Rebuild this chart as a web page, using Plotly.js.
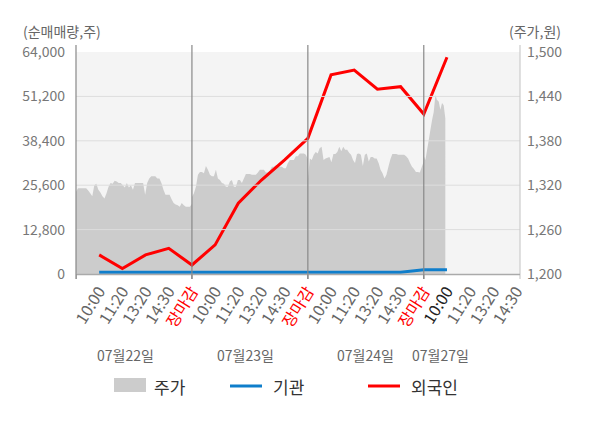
<!DOCTYPE html>
<html>
<head>
<meta charset="utf-8">
<script src="https://cdn.plot.ly/plotly-3.0.1.min.js"></script>
<style>
html,body{margin:0;padding:0;background:#fff;}
#chart{width:600px;height:428px;}
</style>
</head>
<body>
<div id="chart"></div>
<script>
// ---------- DATA ----------
const sessionTimes = ['10:00', '11:20', '13:20', '14:30', '장마감'];
const dates = ['07월22일', '07월23일', '07월24일', '07월27일'];
const volTicks = [0, 12800, 25600, 38400, 51200, 64000];
const priceTicks = [1200, 1260, 1320, 1380, 1440, 1500];

// 주가 (intraday price samples per day, 원)
const priceDay1 = [1311,1316,1316,1316,1316,1316,1313,1309,1305,1320,1322,1314,1310,1305,1302,1309,1318,1323,1322,1326,1325,1323,1323,1320,1317,1323,1317,1320,1314,1323,1323,1323,1323,1323,1307,1323,1329,1332,1332,1332,1329,1329,1323,1314,1307,1307,1307,1301,1296,1294,1293,1291,1296,1293,1291,1291,1291,1295];
const priceDay2 = [1304,1309,1318,1334,1338,1338,1336,1346,1341,1334,1332,1332,1341,1329,1327,1323,1322,1318,1318,1325,1327,1318,1318,1327,1327,1323,1329,1335,1335,1335,1334,1334,1334,1337,1341,1341,1341,1337,1337,1340,1345,1345,1347,1347,1345,1345,1343,1343,1350,1354,1354,1354,1359,1359,1363,1363,1363,1361,1355];
const priceDay3 = [1327,1356,1354,1361,1365,1363,1370,1372,1354,1356,1357,1358,1351,1362,1362,1365,1372,1366,1372,1368,1368,1364,1361,1354,1350,1362,1363,1361,1346,1361,1363,1352,1358,1358,1356,1356,1350,1341,1336,1329,1334,1345,1355,1362,1362,1362,1361,1361,1361,1361,1359,1356,1350,1345,1342,1338,1338,1337,1345,1352];
const priceDay4 = [1359,1354,1368,1381,1395,1408,1419,1442,1435,1433,1422,1431,1428,1410];
const priceDays = [priceDay1, priceDay2, priceDay3, priceDay4];
const dayCoverage = [1, 1, 1, 0.186]; // share of the session covered by samples (last day up to ~10:00)

// 순매매량 (cumulative net buying, 주) at each label time
const foreign = [5500, 1600, 5500, 7400, 2600, 8400, 20400, 27100, 32900, 39100, 57400, 58800, 53300, 54000, 46100, 62500];
const inst    = [500, 500, 500, 500, 500, 500, 500, 500, 500, 500, 500, 500, 500, 500, 1200, 1200];

// ---------- BUILD ----------
const SLOTS = 5; // label slots per day
const tickVals = [], tickText = [];
dates.forEach((d, di) => {
  sessionTimes.forEach((t, ti) => {
    const pos = di * SLOTS + ti + 1;
    if (di === dates.length - 1 && t === '장마감') return;
    tickVals.push(pos);
    let txt = t;
    if (t === '장마감') txt = '<span style="color:#ff0000">' + t + '</span>';
    else if (di === dates.length - 1 && ti === 0) txt = '<span style="color:#222222">' + t + '</span>';
    tickText.push(txt);
  });
});

const areaX = [], areaY = [];
priceDays.forEach((arr, di) => {
  const n = arr.length;
  arr.forEach((v, i) => {
    areaX.push(di * SLOTS + SLOTS * dayCoverage[di] * i / (n - 1));
    areaY.push(v);
  });
});

const lineX = foreign.map((v, i) => i + 1);

// pixel helpers for the plot frame (left 76, right 520, top 52, bottom 274)
const L = 76, R = 520, T = 52, B = 274;
const px = x => (x - L) / (R - L);
const py = y => (B - y) / (B - T);

const FONT = 'Noto Sans CJK KR, Noto Sans, sans-serif';

const traces = [
  {x: areaX, y: areaY, type: 'scatter', mode: 'none', fill: 'tozeroy',
   fillcolor: '#cccccc', yaxis: 'y', hoverinfo: 'skip', name: '주가'},
  {x: lineX, y: inst, type: 'scatter', mode: 'lines', yaxis: 'y2',
   line: {color: '#0f7ecb', width: 3}, name: '기관'},
  {x: lineX, y: foreign, type: 'scatter', mode: 'lines', yaxis: 'y2',
   line: {color: '#ff0000', width: 3}, name: '외국인'}
];

const shapes = [];
// horizontal grid lines (over the area)
volTicks.slice(1, -1).forEach(v => {
  shapes.push({type: 'line', xref: 'paper', yref: 'y2', x0: 0, x1: 1, y0: v, y1: v,
    line: {color: '#dddddd', width: 1}, layer: 'above'});
});
// left axis line
shapes.push({type: 'line', xref: 'paper', yref: 'paper', x0: 0, x1: 0, y0: py(279), y1: py(45),
  line: {color: '#888888', width: 1.2}, layer: 'above'});
// right axis line
shapes.push({type: 'line', xref: 'paper', yref: 'paper', x0: 1, x1: 1, y0: py(279), y1: py(45),
  line: {color: '#cccccc', width: 1.2}, layer: 'above'});
// day separators
[1, 2, 3].forEach(d => {
  shapes.push({type: 'line', xref: 'x', yref: 'paper', x0: d * SLOTS, x1: d * SLOTS, y0: py(279), y1: py(45),
    line: {color: '#888888', width: 1.2}, layer: 'above'});
});
// bottom axis line
shapes.push({type: 'line', xref: 'paper', yref: 'paper', x0: 0, x1: 1, y0: py(274.5), y1: py(274.5),
  line: {color: '#aaaaaa', width: 1.5}, layer: 'above'});

// legend (manual)
shapes.push({type: 'rect', xref: 'paper', yref: 'paper', x0: px(114), x1: px(146), y0: py(392), y1: py(378),
  fillcolor: '#cccccc', line: {width: 0}});
shapes.push({type: 'line', xref: 'paper', yref: 'paper', x0: px(230), x1: px(262), y0: py(386), y1: py(386),
  line: {color: '#0f7ecb', width: 3}});
shapes.push({type: 'line', xref: 'paper', yref: 'paper', x0: px(368), x1: px(400), y0: py(386), y1: py(386),
  line: {color: '#ff0000', width: 3}});

const annotations = [
  {text: '(순매매량,주)', xref: 'paper', yref: 'paper', x: px(21), y: py(31), xanchor: 'left', yanchor: 'middle',
   showarrow: false, font: {family: FONT, size: 14, color: '#666666'}},
  {text: '(주가,원)', xref: 'paper', yref: 'paper', x: px(563), y: py(31), xanchor: 'right', yanchor: 'middle',
   showarrow: false, font: {family: FONT, size: 14, color: '#666666'}},
  {text: '주가', xref: 'paper', yref: 'paper', x: px(152), y: py(386), xanchor: 'left', yanchor: 'middle',
   showarrow: false, font: {family: FONT, size: 17, color: '#333333'}},
  {text: '기관', xref: 'paper', yref: 'paper', x: px(271), y: py(386), xanchor: 'left', yanchor: 'middle',
   showarrow: false, font: {family: FONT, size: 17, color: '#333333'}},
  {text: '외국인', xref: 'paper', yref: 'paper', x: px(409), y: py(386), xanchor: 'left', yanchor: 'middle',
   showarrow: false, font: {family: FONT, size: 17, color: '#333333'}}
];
const dateCenters = [125, 245, 365, 440];
dates.forEach((d, i) => {
  annotations.push({text: d, xref: 'paper', yref: 'paper', x: px(dateCenters[i]), y: py(355),
    xanchor: 'center', yanchor: 'middle', showarrow: false,
    font: {family: FONT, size: 14, color: '#666666'}});
});
// bottom tick marks at day boundaries
[0, 1, 2, 3].forEach(d => {
  shapes.push({type: 'line', xref: 'x', yref: 'paper', x0: d * SLOTS, x1: d * SLOTS, y0: py(274), y1: py(279),
    line: {color: '#888888', width: 1.2}});
});

const layout = {
  width: 600, height: 428,
  margin: {l: L, r: 600 - R, t: T, b: 428 - B, pad: 0},
  paper_bgcolor: '#ffffff',
  plot_bgcolor: '#f4f4f4',
  showlegend: false,
  font: {family: FONT, color: '#666666'},
  xaxis: {
    range: [0, 19.15], tickvals: tickVals, ticktext: tickText, tickangle: -58,
    showgrid: false, zeroline: false, showline: false, ticks: '',
    tickfont: {family: FONT, size: 16, color: '#666666'}, fixedrange: true, ticklabelstandoff: 4
  },
  yaxis: {
    side: 'right', range: [1200, 1500], tickvals: priceTicks, tickformat: ',d',
    showgrid: false, zeroline: false, showline: false, ticks: '',
    tickfont: {family: FONT, size: 14, color: '#777777'}, ticklabelstandoff: 6
  },
  yaxis2: {
    overlaying: 'y', side: 'left', range: [0, 64000], tickvals: volTicks, tickformat: ',d',
    showgrid: false, zeroline: false, showline: false, ticks: '',
    tickfont: {family: FONT, size: 14, color: '#777777'}, ticklabelstandoff: 10
  },
  shapes: shapes,
  annotations: annotations
};

Plotly.newPlot('chart', traces, layout, {displayModeBar: false, staticPlot: true});
</script>
</body>
</html>
